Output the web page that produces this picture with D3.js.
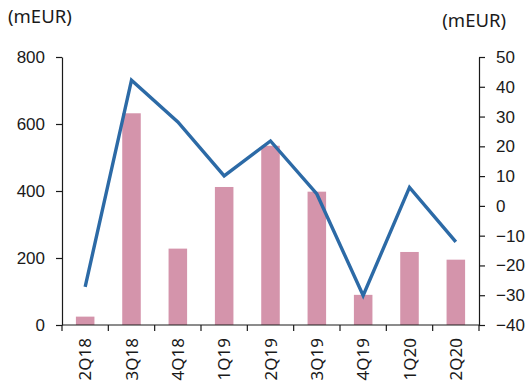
<!DOCTYPE html>
<html>
<head>
<meta charset="utf-8">
<script src="https://cdn.jsdelivr.net/npm/d3@7"></script>
<style>
  html, body { margin: 0; padding: 0; background: #fff; }
  svg { display: block; font-family: "Noto Sans", sans-serif; }
  .axis text { font-size: 17px; fill: #1a1a1a; }
  .axis path, .axis line { stroke: #1a1a1a; stroke-width: 1.2; }
</style>
</head>
<body>
<svg id="chart" width="527" height="387"></svg>
<script>
// Quarterly figures, bars on the left axis, line on the right axis (mEUR)
const quarters = ["2Q18", "3Q18", "4Q18", "1Q19", "2Q19", "3Q19", "4Q19", "1Q20", "2Q20"];
const barValues = [25, 632, 228, 412, 535, 398, 90, 218, 195];
const lineValues = [-27.2, 42.2, 28.2, 10.1, 21.8, 4.0, -30.1, 6.2, -12.1];
const leftTicks = [0, 200, 400, 600, 800];
const rightTicks = [-40, -30, -20, -10, 0, 10, 20, 30, 40, 50];

const svg = d3.select("#chart");
const plotLeft = 62, plotRight = 479, plotTop = 57, plotBottom = 325;

const x = d3.scaleBand().domain(quarters).range([plotLeft, plotRight]).paddingInner(0).paddingOuter(0);
const yL = d3.scaleLinear().domain([0, 800]).range([plotBottom, plotTop]);
const yR = d3.scaleLinear().domain([-40, 50]).range([plotBottom, plotTop]);

const fmt = d => (d < 0 ? "\u2212" + Math.abs(d) : String(d));

// Bars
const barW = x.bandwidth() * 0.4;
svg.append("g").selectAll("rect")
  .data(quarters)
  .join("rect")
  .attr("x", (d) => x(d) + (x.bandwidth() - barW) / 2)
  .attr("width", barW)
  .attr("y", (d, i) => yL(barValues[i]))
  .attr("height", (d, i) => yL(0) - yL(barValues[i]))
  .attr("fill", "#d494ab");

// Line
const line = d3.line()
  .x((d, i) => x(quarters[i]) + x.bandwidth() / 2)
  .y(d => yR(d));
svg.append("path")
  .datum(lineValues)
  .attr("d", line)
  .attr("fill", "none")
  .attr("stroke", "#2c6aa6")
  .attr("stroke-width", 3.4)
  .attr("stroke-linejoin", "miter");

// Left axis
svg.append("g").attr("class", "axis")
  .attr("transform", `translate(${plotLeft},0)`)
  .call(d3.axisLeft(yL).tickValues(leftTicks).tickSize(6).tickSizeOuter(0).tickPadding(11).tickFormat(fmt));

// Right axis
svg.append("g").attr("class", "axis")
  .attr("transform", `translate(${plotRight},0)`)
  .call(d3.axisRight(yR).tickValues(rightTicks).tickSize(6).tickSizeOuter(0).tickPadding(11).tickFormat(fmt));

// Bottom axis: ticks on category boundaries
const gX = svg.append("g").attr("class", "axis")
  .attr("transform", `translate(0,${plotBottom})`);
gX.append("line").attr("x1", plotLeft).attr("x2", plotRight).attr("y1", 0).attr("y2", 0)
  .attr("stroke", "#1a1a1a").attr("stroke-width", 1.2);
const bounds = quarters.map(q => x(q)).concat([plotRight]);
gX.selectAll("line.tick").data(bounds).join("line")
  .attr("class", "tick")
  .attr("x1", d => d).attr("x2", d => d).attr("y1", 0).attr("y2", 6)
  .attr("stroke", "#1a1a1a").attr("stroke-width", 1.2);
gX.selectAll("text").data(quarters).join("text")
  .attr("transform", d => `translate(${x(d) + x.bandwidth() / 2 + 6},13) rotate(-90)`)
  .attr("text-anchor", "end")
  .text(d => d);

// Unit labels
svg.append("text").attr("x", 8).attr("y", 23).attr("font-size", 18.5).attr("fill", "#1a1a1a").text("(mEUR)");
svg.append("text").attr("x", 506).attr("y", 27).attr("font-size", 18.5).attr("text-anchor", "end").attr("fill", "#1a1a1a").text("(mEUR)");
</script>
</body>
</html>
